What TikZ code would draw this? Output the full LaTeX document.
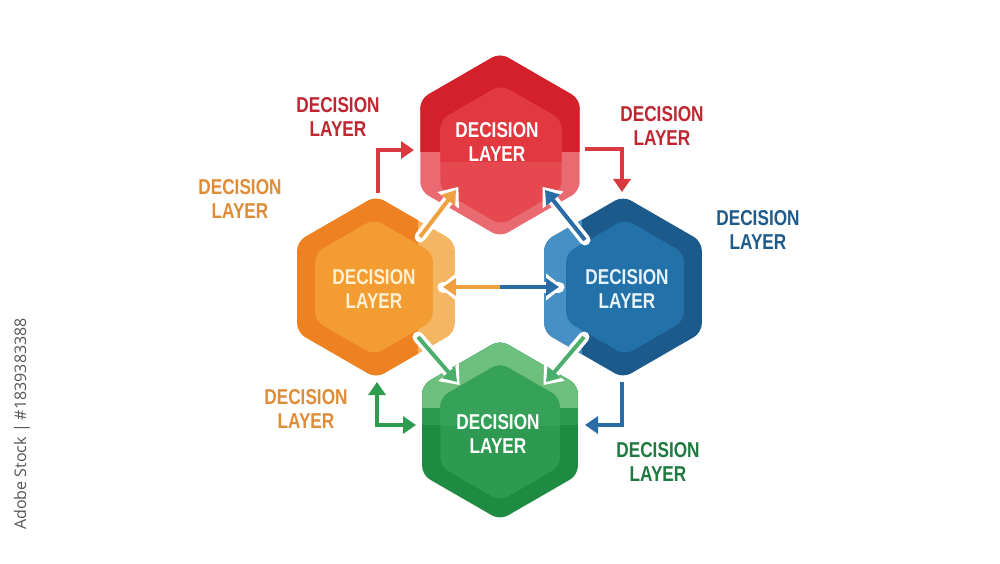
\documentclass[tikz,border=0pt]{standalone}
\usepackage{fontspec}
\setmainfont{Liberation Sans}
\newfontfamily\labfont{Liberation Sans}[FakeStretch=0.8]
\newfontfamily\wmfont{Open Sans}
\usetikzlibrary{calc,arrows.meta}
\definecolor{rdark}{HTML}{D3202A}
\definecolor{rmid}{HTML}{E23940}
\definecolor{rmid2}{HTML}{E5494F}
\definecolor{rlight}{HTML}{E96A70}
\definecolor{odark}{HTML}{EE8223}
\definecolor{omid}{HTML}{F29C32}
\definecolor{olight}{HTML}{F5B663}
\definecolor{bdark}{HTML}{1C5A8C}
\definecolor{bmid}{HTML}{2271A9}
\definecolor{blight}{HTML}{4790C5}
\definecolor{gdark}{HTML}{1E8A42}
\definecolor{gmid}{HTML}{35A159}
\definecolor{gmid2}{HTML}{2E9A51}
\definecolor{glight}{HTML}{6DBF7E}
\definecolor{redtxt}{HTML}{BF2630}
\definecolor{oratxt}{HTML}{DE8C38}
\definecolor{bluetxt}{HTML}{1E5A8A}
\definecolor{grntxt}{HTML}{1E7A3E}
\definecolor{redarr}{HTML}{D93A40}
\definecolor{oraarr}{HTML}{EFA040}
\definecolor{bluarr}{HTML}{2A6CA5}
\definecolor{grnarr}{HTML}{4CAE6B}
\definecolor{grnarr2}{HTML}{2E9B4F}
\definecolor{otxtin}{HTML}{FFF1D2}
\definecolor{btxtin}{HTML}{E6F3FA}
\definecolor{wmgray}{HTML}{555555}
\newcommand\hexat[2]{($(#1)+(90:#2)$) -- ($(#1)+(150:#2)$) -- ($(#1)+(210:#2)$) -- ($(#1)+(270:#2)$) -- ($(#1)+(330:#2)$) -- ($(#1)+(30:#2)$) -- cycle}
\tikzset{
  lab/.style={align=center, font=\labfont\bfseries\fontsize{21.5}{24}\selectfont, inner sep=0pt},
  arr/.style={line width=4pt, -{Triangle[length=13pt,width=17pt]}},
  dblarr/.style={line width=4pt, {Triangle[length=13pt,width=17pt]}-{Triangle[length=13pt,width=17pt]}},
  halo/.style={draw=white, line width=11pt, line cap=round, -{Triangle[length=17pt,width=26pt]}, shorten >=-4pt},
  hexround/.style={rounded corners=9pt},
}
\begin{document}
\begin{tikzpicture}[x=1pt,y=1pt]
\useasboundingbox (0,0) rectangle (1000,563);
\fill[white] (0,0) rectangle (1000,563);
% centres
\coordinate (red) at (500,418);
\coordinate (redin) at (501,408);
\coordinate (ora) at (376,276);
\coordinate (orain) at (374,276);
\coordinate (blu) at (623,276);
\coordinate (bluin) at (625,276);
\coordinate (grn) at (500,133);
\coordinate (grnin) at (500,131);
% red hexagon
\begin{scope}
\clip[hexround] \hexat{red}{92};
\fill[rlight] (380,300) rectangle (620,520);
\fill[rdark] (380,411) rectangle (620,520);
\fill[rmid2,hexround] \hexat{redin}{70};
\end{scope}
\begin{scope}
\clip (380,401) rectangle (620,520);
\fill[rmid,hexround] \hexat{redin}{70};
\end{scope}
% orange hexagon
\begin{scope}
\clip[hexround] \hexat{ora}{91};
\fill[olight] (270,170) rectangle (480,380);
\fill[odark] (270,170) rectangle (418,380);
\end{scope}
\fill[omid,hexround] \hexat{orain}{68};
% blue hexagon
\begin{scope}
\clip[hexround] \hexat{blu}{91};
\fill[bdark] (520,170) rectangle (730,380);
\fill[blight] (520,170) rectangle (582,380);
\end{scope}
\fill[bmid,hexround] \hexat{bluin}{68};
% green hexagon
\begin{scope}
\clip[hexround] \hexat{grn}{90};
\fill[gdark] (390,30) rectangle (610,240);
\fill[gmid2] (390,138) rectangle (610,240);
\fill[glight] (390,155) rectangle (610,240);
\fill[gmid2,hexround] \hexat{grnin}{69};
\end{scope}
\begin{scope}
\clip (390,138) rectangle (610,240);
\fill[gmid,hexround] \hexat{grnin}{69};
\end{scope}
% inner labels
\node[lab,text=white] (tr) at (497,421.5) {DECISION\\LAYER};
\node[lab,text=otxtin] (to) at (374,274.5) {DECISION\\LAYER};
\node[lab,text=btxtin] (tb) at (627,274.5) {DECISION\\LAYER};
\node[lab,text=white] (tg) at (498,129.5) {DECISION\\LAYER};
% arrow end coordinates
\coordinate (a1s) at (420,326); \coordinate (a1e) at (456,373);
\coordinate (a2s) at (585,323); \coordinate (a2e) at (545,373);
\coordinate (hm) at (500,276); \coordinate (hl) at (443,276); \coordinate (hr) at (559,276);
\coordinate (a4s) at (418,226); \coordinate (a4e) at (457,181);
\coordinate (a5s) at (584,226); \coordinate (a5e) at (546,181);
\coordinate (e1s) at (378,370); \coordinate (e1c) at (378,413); \coordinate (e1e) at (414,413);
\coordinate (e2s) at (585,414); \coordinate (e2c) at (622,414); \coordinate (e2e) at (622,371);
\coordinate (e3s) at (377,181); \coordinate (e3c) at (377,138); \coordinate (e3e) at (416,138);
\coordinate (e4s) at (622,181); \coordinate (e4c) at (622,138); \coordinate (e4e) at (585,138);
% halos
\draw[halo] (a1s) -- (a1e);
\draw[halo] (a2s) -- (a2e);
\draw[halo] (a4s) -- (a4e);
\draw[halo] (a5s) -- (a5e);
\draw[halo] (hr) -- (hl);
\draw[halo] (hl) -- (hr);
% arrows
\draw[arr,oraarr] (a1s) -- (a1e);
\draw[arr,bluarr] (a2s) -- (a2e);
\draw[arr,grnarr] (a4s) -- (a4e);
\draw[arr,grnarr] (a5s) -- (a5e);
\draw[arr,oraarr] (hm) -- (hl);
\draw[arr,bluarr] (hm) -- (hr);
\draw[arr,redarr] (e1s) -- (e1c) -- (e1e);
\draw[arr,redarr] (e2s) -- (e2c) -- (e2e);
\draw[dblarr,grnarr2] (e3s) -- (e3c) -- (e3e);
\draw[arr,bluarr] (e4s) -- (e4c) -- (e4e);
% outer labels
\node[lab,text=redtxt] (l1) at (338,446) {DECISION\\LAYER};
\node[lab,text=redtxt] (l2) at (662,437.5) {DECISION\\LAYER};
\node[lab,text=oratxt] (l3) at (240,364.5) {DECISION\\LAYER};
\node[lab,text=bluetxt] (l4) at (758,333.5) {DECISION\\LAYER};
\node[lab,text=oratxt] (l5) at (306,154) {DECISION\\LAYER};
\node[lab,text=grntxt] (l6) at (658,101.5) {DECISION\\LAYER};
% watermark
\node[rotate=90,anchor=east,inner sep=0pt,text=wmgray,font=\wmfont\fontsize{16}{18}\selectfont] (wm) at (22,245) {Adobe Stock | \#1839383388};
\end{tikzpicture}
\end{document}
